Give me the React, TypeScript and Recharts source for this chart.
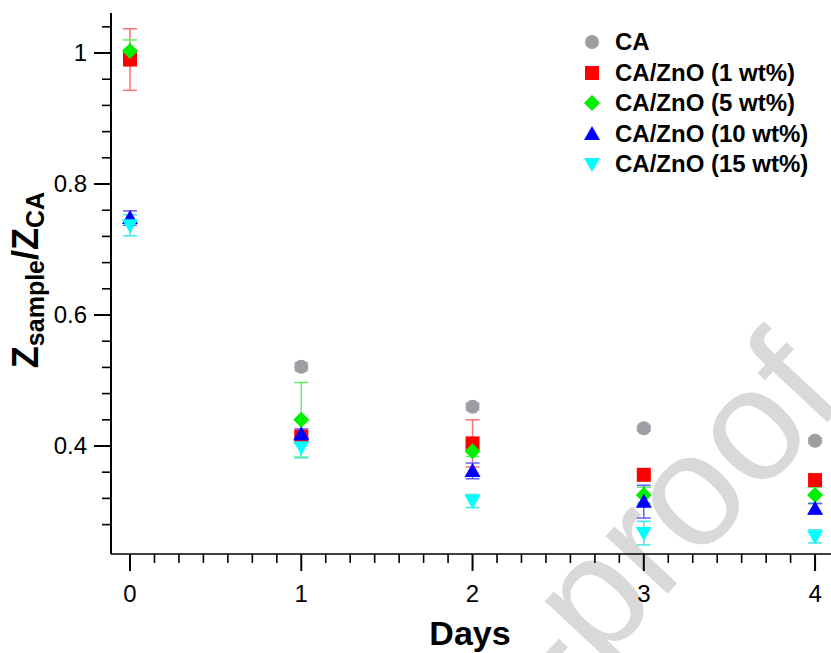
import React from 'react';
import { ScatterChart, Scatter, XAxis, YAxis, ErrorBar, Legend } from 'recharts';

const days = [0, 1, 2, 3, 4];

const caValues = [1.0, 0.521, 0.46, 0.427, 0.408];
const caErrors = [0.005, 0.006, 0.005, 0.004, 0.004];
const zno1Values = [0.99, 0.414, 0.404, 0.356, 0.348];
const zno1Errors = [0.047, 0.01, 0.036, 0.005, 0.005];
const zno5Values = [1.003, 0.44, 0.392, 0.325, 0.325];
const zno5Errors = [0.017, 0.057, 0.008, 0.012, 0.012];
const zno10Values = [0.748, 0.418, 0.362, 0.315, 0.304];
const zno10Errors = [0.011, 0.008, 0.012, 0.025, 0.008];
const zno15Values = [0.737, 0.398, 0.316, 0.267, 0.262];
const zno15Errors = [0.016, 0.016, 0.01, 0.018, 0.01];

const seriesNames = ['CA', 'CA/ZnO (1 wt%)', 'CA/ZnO (5 wt%)', 'CA/ZnO (10 wt%)', 'CA/ZnO (15 wt%)'];
const seriesShapes = ['circle', 'square', 'diamond', 'up', 'down'];
const seriesColors = ['#9d9da3', '#ff0000', '#00f000', '#0000ff', '#00ffff'];
const errorColors = ['#aeaeb3', '#ff7070', '#60f060', '#6060ff', '#40e8e8'];

const xMajorTicks = [0, 1, 2, 3, 4];
const yMajorTicks = [0.4, 0.6, 0.8, 1.0];
const yTickLabels = ['0.4', '0.6', '0.8', '1'];

// minor ticks: 1/7 day on x, 0.04 on y
const xTicks = Array.from({ length: 29 }, (_, i) => i / 7);
const yTicks = Array.from({ length: 20 }, (_, i) => 0.28 + i * 0.04);

const FONT = '"Liberation Sans", Arial, Helvetica, sans-serif';

const allValues = [caValues, zno1Values, zno5Values, zno10Values, zno15Values];
const allErrors = [caErrors, zno1Errors, zno5Errors, zno10Errors, zno15Errors];

const series = seriesNames.map((name, i) => ({
    name,
    shape: seriesShapes[i],
    color: seriesColors[i],
    errColor: errorColors[i],
    data: days.map((d, j) => ({ x: d, y: allValues[i][j], err: allErrors[i][j] })),
}));

function Marker({ cx, cy, kind, color, s = 7 }: { cx: number, cy: number, kind: string, color: string, s?: number }) {
    switch (kind) {
        case 'circle':
            return <circle cx={cx} cy={cy} r={s} fill={color} />;
        case 'square':
            return <rect x={cx - s} y={cy - s} width={2 * s} height={2 * s} fill={color} />;
        case 'diamond':
            return <polygon points={`${cx},${cy - s - 1} ${cx + s + 1},${cy} ${cx},${cy + s + 1} ${cx - s - 1},${cy}`} fill={color} />;
        case 'up':
            return <polygon points={`${cx},${cy - s - 1} ${cx + s + 1},${cy + s - 1} ${cx - s - 1},${cy + s - 1}`} fill={color} />;
        default:
            return <polygon points={`${cx},${cy + s + 1} ${cx + s + 1},${cy - s + 1} ${cx - s - 1},${cy - s + 1}`} fill={color} />;
    }
}

const XTick = (props: any) => {
    const { x, y, payload } = props;
    const idx = xMajorTicks.findIndex((m) => Math.abs(m - payload.value) < 1e-6);
    const major = idx >= 0;
    return (
        <g>
            <line x1={x} x2={x} y1={y} y2={y + (major ? 17 : 9)} stroke="#000" strokeWidth={major ? 2 : 1.6} />
            {major && (
                <text x={x} y={y + 48} textAnchor="middle" fontSize={24} fontFamily={FONT} fill="#000">
                    {String(xMajorTicks[idx])}
                </text>
            )}
        </g>
    );
};

const YTick = (props: any) => {
    const { x, y, payload } = props;
    const idx = yMajorTicks.findIndex((m) => Math.abs(m - payload.value) < 1e-6);
    const major = idx >= 0;
    return (
        <g>
            <line x1={x - (major ? 17 : 9)} x2={x} y1={y} y2={y} stroke="#000" strokeWidth={major ? 2 : 1.6} />
            {major && (
                <text x={x - 24} y={y + 8} textAnchor="end" fontSize={24} fontFamily={FONT} fill="#000">
                    {yTickLabels[idx]}
                </text>
            )}
        </g>
    );
};

const YLabel = () => (
    <text x={38} y={280} transform="rotate(-90, 38, 280)" textAnchor="middle" fontWeight="bold" fontFamily={FONT} fill="#000">
        <tspan fontSize={36}>Z</tspan>
        <tspan fontSize={25} dy={6}>sample</tspan>
        <tspan fontSize={36} dy={-6}>/Z</tspan>
        <tspan fontSize={25} dy={6}>CA</tspan>
    </text>
);

const XLabel = () => (
    <text x={470} y={645} textAnchor="middle" fontWeight="bold" fontSize={34} fontFamily={FONT} fill="#000">
        Days
    </text>
);

const LegendBox = () => (
    <div style={{ fontFamily: FONT, fontWeight: 'bold', fontSize: 24, color: '#000' }}>
        {series.map((s) => (
            <div key={s.name} style={{ height: 30.5, display: 'flex', alignItems: 'center', whiteSpace: 'nowrap' }}>
                <svg width={20} height={20} style={{ marginRight: 13 }}>
                    <Marker cx={10} cy={10} kind={s.shape} color={s.color} s={7} />
                </svg>
                <span>{s.name}</span>
            </div>
        ))}
    </div>
);

export default function App() {
    return (
        <div style={{ position: 'absolute', left: 0, top: 0, width: 831, height: 653, background: '#fff' }}>
            <svg width={831} height={653} style={{ position: 'absolute', left: 0, top: 0 }}>
                <text
                    x={848}
                    y={400}
                    transform="rotate(-47, 848, 400)"
                    textAnchor="end"
                    fontSize={160}
                    fontFamily={FONT}
                    fill="#d9d9d9"
                >
                    Journal Pre-proof
                </text>
            </svg>
            <div style={{ position: 'absolute', left: 0, top: 0 }}>
                <ScatterChart width={831} height={653} margin={{ top: 13, right: 0, bottom: 0, left: 0 }}>
                    <XAxis
                        type="number"
                        dataKey="x"
                        domain={[-0.111, 4.093]}
                        allowDataOverflow
                        ticks={xTicks}
                        interval={0}
                        height={99}
                        tickSize={0}
                        tickMargin={0}
                        tickLine={false}
                        tick={<XTick />}
                        axisLine={{ stroke: '#000', strokeWidth: 1.6 }}
                        label={{ content: () => <XLabel /> }}
                    />
                    <YAxis
                        type="number"
                        dataKey="y"
                        domain={[0.2351, 1.0611]}
                        allowDataOverflow
                        ticks={yTicks}
                        interval={0}
                        width={111}
                        tickSize={0}
                        tickMargin={0}
                        tickLine={false}
                        tick={<YTick />}
                        axisLine={{ stroke: '#000', strokeWidth: 2 }}
                        label={{ content: () => <YLabel /> }}
                    />
                    <Legend
                        layout="vertical"
                        align="center"
                        verticalAlign="middle"
                        wrapperStyle={{ left: 582, top: 27, width: 249 }}
                        content={() => <LegendBox />}
                    />
                    {series.map((s) => (
                        <Scatter
                            key={s.name}
                            name={s.name}
                            data={s.data}
                            fill={s.color}
                            isAnimationActive={false}
                            shape={(p: any) => <Marker cx={p.cx} cy={p.cy} kind={s.shape} color={s.color} />}
                        >
                            <ErrorBar dataKey="err" direction="y" width={7} stroke={s.errColor} strokeWidth={1.5} />
                        </Scatter>
                    ))}
                </ScatterChart>
            </div>
        </div>
    );
}
